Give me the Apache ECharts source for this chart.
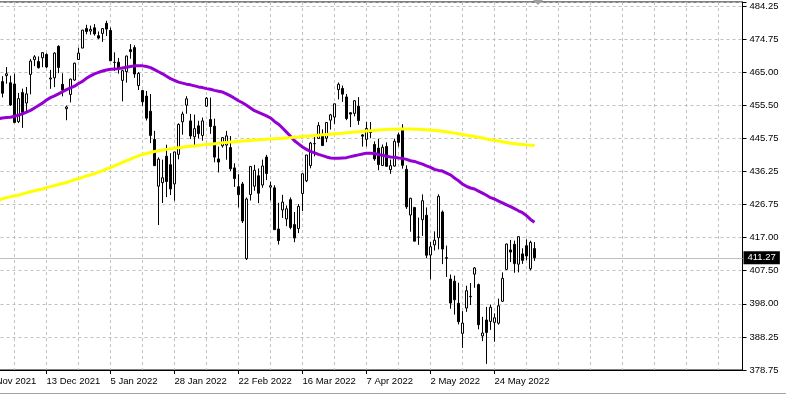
<!DOCTYPE html>
<html><head><meta charset="utf-8">
<script src="https://cdn.jsdelivr.net/npm/echarts/dist/echarts.min.js"></script>
<style>html,body{margin:0;padding:0;background:#fff;}#c{width:786px;height:396px;}</style>
</head><body><div id="c"></div>
<script>
const dates = ['18 Nov 2021','19 Nov 2021','22 Nov 2021','23 Nov 2021','24 Nov 2021','26 Nov 2021','29 Nov 2021','30 Nov 2021',
'1 Dec 2021','2 Dec 2021','3 Dec 2021','6 Dec 2021','7 Dec 2021','8 Dec 2021','9 Dec 2021','10 Dec 2021',
'13 Dec 2021','14 Dec 2021','15 Dec 2021','16 Dec 2021','17 Dec 2021','20 Dec 2021','21 Dec 2021','22 Dec 2021','23 Dec 2021',
'27 Dec 2021','28 Dec 2021','29 Dec 2021','30 Dec 2021','31 Dec 2021',
'3 Jan 2022','4 Jan 2022','5 Jan 2022','6 Jan 2022','7 Jan 2022','10 Jan 2022','11 Jan 2022','12 Jan 2022','13 Jan 2022','14 Jan 2022',
'18 Jan 2022','19 Jan 2022','20 Jan 2022','21 Jan 2022','24 Jan 2022','25 Jan 2022','26 Jan 2022','27 Jan 2022','28 Jan 2022','31 Jan 2022',
'1 Feb 2022','2 Feb 2022','3 Feb 2022','4 Feb 2022','7 Feb 2022','8 Feb 2022','9 Feb 2022','10 Feb 2022','11 Feb 2022',
'14 Feb 2022','15 Feb 2022','16 Feb 2022','17 Feb 2022','18 Feb 2022','22 Feb 2022','23 Feb 2022','24 Feb 2022','25 Feb 2022','28 Feb 2022',
'1 Mar 2022','2 Mar 2022','3 Mar 2022','4 Mar 2022','7 Mar 2022','8 Mar 2022','9 Mar 2022','10 Mar 2022','11 Mar 2022',
'14 Mar 2022','15 Mar 2022','16 Mar 2022','17 Mar 2022','18 Mar 2022','21 Mar 2022','22 Mar 2022','23 Mar 2022','24 Mar 2022','25 Mar 2022',
'28 Mar 2022','29 Mar 2022','30 Mar 2022','31 Mar 2022','1 Apr 2022','4 Apr 2022','5 Apr 2022','6 Apr 2022','7 Apr 2022','8 Apr 2022',
'11 Apr 2022','12 Apr 2022','13 Apr 2022','14 Apr 2022','18 Apr 2022','19 Apr 2022','20 Apr 2022','21 Apr 2022','22 Apr 2022',
'25 Apr 2022','26 Apr 2022','27 Apr 2022','28 Apr 2022','29 Apr 2022','2 May 2022','3 May 2022','4 May 2022','5 May 2022','6 May 2022',
'9 May 2022','10 May 2022','11 May 2022','12 May 2022','13 May 2022','16 May 2022','17 May 2022','18 May 2022','19 May 2022','20 May 2022',
'23 May 2022','24 May 2022','25 May 2022','26 May 2022','27 May 2022','31 May 2022','1 Jun 2022','2 Jun 2022','3 Jun 2022','6 Jun 2022','7 Jun 2022','8 Jun 2022'];

const opens = [null,null,null,null,466.06,462.34,464.07,462.00,
461.64,450.73,459.17,456.13,464.41,468.70,468.15,469.23,
470.19,463.09,463.42,472.57,461.55,454.48,458.61,462.79,468.75,
472.06,477.72,476.98,477.93,475.64,
476.30,479.22,477.16,467.89,467.95,462.70,465.23,471.59,472.19,461.19,
459.74,458.13,453.75,445.56,432.03,433.06,440.72,438.26,432.68,441.24,
450.68,455.50,450.95,446.35,449.51,446.73,455.22,451.34,449.41,
439.92,443.73,443.93,443.22,437.33,431.89,432.66,411.02,429.61,432.03,
435.04,432.37,440.47,431.75,431.55,419.62,425.14,422.52,428.12,
420.89,419.77,429.89,433.59,438.00,444.34,445.86,446.91,445.94,451.16,
452.06,460.02,460.34,457.89,453.31,453.13,455.22,446.89,445.59,447.97,
444.11,443.08,438.03,443.55,436.81,437.86,446.92,448.54,436.91,
423.67,425.83,417.24,422.29,423.59,412.07,415.01,417.08,424.55,411.10,
405.10,404.49,398.07,389.37,396.71,399.98,406.53,403.50,388.62,393.25,
392.83,392.56,392.31,398.67,407.91,413.55,415.17,409.42,412.40,414.78,408.10,413.93];

const highs = [null,null,null,null,469.57,463.90,466.56,464.03,
464.67,459.07,460.30,460.79,468.88,470.00,469.63,470.90,
470.56,465.74,470.86,472.87,464.74,455.40,463.21,467.81,472.19,
477.31,478.81,478.56,479.00,476.86,
477.85,479.98,477.98,470.82,469.20,465.74,469.85,473.20,472.88,465.09,
459.96,459.61,458.74,448.06,440.38,439.72,444.04,441.59,442.00,450.28,
453.63,458.12,452.97,452.78,450.99,451.92,457.88,457.71,451.61,
443.50,446.28,448.06,446.57,438.66,435.50,433.26,428.76,437.84,438.20,
437.17,439.72,441.11,433.37,432.30,427.21,429.51,426.43,428.77,
424.55,426.84,435.68,441.07,444.86,446.46,450.58,448.49,450.50,452.98,
455.91,462.07,461.20,458.76,453.46,456.91,457.83,447.10,450.69,450.63,
445.00,445.75,444.11,444.73,439.75,445.80,447.57,450.01,438.08,
428.69,426.04,422.92,429.64,425.87,415.92,418.93,429.66,425.00,414.80,
406.41,406.08,404.04,395.80,403.18,403.97,408.57,403.80,394.14,397.03,
397.73,395.15,399.45,407.04,415.38,416.46,416.24,417.44,414.04,416.61,416.22,415.82];

const lows = [null,null,null,null,461.19,457.77,461.73,455.30,
450.29,450.31,448.92,453.56,458.65,466.83,466.14,466.51,
466.27,460.25,460.74,464.80,458.06,451.14,456.31,462.58,468.64,
472.01,476.06,475.92,475.67,474.67,
473.85,475.58,468.28,465.43,464.65,456.60,462.05,468.94,463.44,459.90,
455.31,451.07,444.50,437.95,420.76,427.15,428.86,429.45,427.82,439.81,
446.94,453.05,445.71,443.83,445.85,445.22,455.00,447.20,438.94,
436.00,443.18,439.69,436.42,431.82,425.86,421.35,410.64,427.86,430.70,
427.11,431.57,433.80,427.88,419.36,415.12,422.82,420.44,419.53,
415.79,418.42,424.80,433.19,437.22,440.68,445.86,443.71,444.76,448.43,
450.06,457.18,456.47,451.16,449.14,452.26,449.82,443.48,443.53,445.94,
439.39,436.65,437.84,437.68,435.61,437.68,443.48,437.10,425.44,
418.84,416.07,415.01,417.60,411.21,405.02,413.36,413.71,409.44,405.73,
396.50,394.82,391.96,385.15,395.61,397.60,402.58,390.55,387.11,380.54,
390.38,386.96,391.89,398.45,407.70,410.03,406.93,407.04,409.51,410.55,407.61,410.38];

const closes = [null,null,null,null,469.44,458.97,464.60,455.56,
450.50,457.40,453.42,458.79,468.28,469.52,466.35,470.74,
466.57,463.36,470.60,466.45,459.87,454.98,463.06,467.69,470.60,
477.26,476.87,477.48,476.16,474.96,
477.71,477.55,468.38,467.94,466.09,465.51,469.75,471.02,464.53,464.72,
456.49,451.75,446.75,437.98,439.84,434.47,433.38,431.24,441.95,449.91,
452.95,457.35,446.60,448.70,447.26,450.94,457.54,449.32,440.46,
439.02,446.10,446.60,437.06,434.23,429.57,421.95,428.30,437.75,436.63,
429.98,437.89,435.71,432.17,419.43,416.25,427.41,425.48,420.07,
417.00,426.17,435.62,441.07,444.52,444.39,449.59,443.80,450.49,452.69,
455.91,461.55,458.70,451.64,452.92,456.80,451.03,446.52,448.77,447.57,
439.92,438.29,443.31,437.79,437.97,445.04,444.71,438.06,426.04,
428.51,416.10,417.27,427.81,412.00,414.48,416.38,429.06,413.81,411.34,
398.17,399.09,392.75,392.34,401.72,400.09,408.32,391.86,389.46,389.63,
396.92,393.89,397.37,405.31,415.26,412.93,409.59,417.39,410.54,411.79,415.74,411.27];

// moving averages (purple = fast, yellow = slow)
const maFast = [null,null,null,null,451.6,451.8,451.9,452.0,
452.3,452.6,453.0,453.5,454.0,454.7,455.4,456.1,
457.0,457.7,458.2,458.8,459.4,460.0,460.5,461.0,461.8,
462.4,463.3,464.0,464.6,465.0,
465.4,465.7,465.9,466.0,466.1,466.3,466.5,466.7,466.9,466.95,
466.9,466.7,466.4,465.8,465.2,464.6,463.9,463.2,462.7,462.2,
461.9,461.6,461.4,461.1,460.8,460.6,460.3,460.1,459.8,
459.55,459.3,458.8,458.2,457.5,456.8,456.2,455.5,454.7,453.9,
453.4,452.9,452.4,451.8,450.8,450.0,448.9,447.7,446.5,
445.2,444.3,443.4,442.7,442.1,441.7,441.25,440.9,440.5,440.2,
440.1,440.1,440.2,440.3,440.6,440.85,441.1,441.35,441.6,441.6,
441.5,441.2,441.0,440.7,440.5,440.4,440.2,440.1,439.8,
439.4,439.2,438.8,438.4,437.9,437.5,436.9,436.6,436.4,435.8,
435.3,434.4,433.6,432.6,432.0,431.5,431.2,430.6,430.0,429.4,
428.7,428.3,427.7,427.2,426.6,426.1,425.5,424.9,424.35,423.5,422.4,421.6];

const maSlow = [null,null,null,null,427.9,428.4,428.7,429.0,
429.2,429.4,429.8,430.1,430.4,430.7,431.0,431.2,
431.6,431.9,432.2,432.5,432.8,433.1,433.5,433.9,434.2,
434.6,435.0,435.3,435.7,436.1,
436.5,437.0,437.4,437.9,438.4,438.9,439.4,439.9,440.4,440.8,
441.2,441.5,441.8,442.1,442.3,442.5,442.7,442.9,443.05,443.2,
443.3,443.5,443.6,443.7,443.85,444.0,444.1,444.2,444.35,
444.5,444.6,444.7,444.8,444.9,445.0,445.1,445.2,445.3,445.4,
445.5,445.55,445.65,445.7,445.75,445.85,445.9,446.0,446.1,
446.2,446.3,446.4,446.5,446.6,446.7,446.8,446.9,447.0,447.1,
447.2,447.3,447.4,447.5,447.6,447.7,447.8,447.9,448.0,448.1,
448.2,448.3,448.4,448.45,448.5,448.55,448.6,448.6,448.6,
448.6,448.55,448.5,448.45,448.4,448.3,448.2,448.1,447.95,447.8,
447.6,447.4,447.2,447.0,446.8,446.6,446.4,446.2,446.0,445.7,
445.5,445.3,445.1,444.9,444.7,444.5,444.35,444.2,444.1,444.0,443.9,443.8];

const xTickLabels = ['18 Nov 2021','13 Dec 2021','5 Jan 2022','28 Jan 2022','22 Feb 2022','16 Mar 2022','7 Apr 2022','2 May 2022','24 May 2022'];
const yTickLabels = ['378.75','388.25','398.00','407.50','417.00','426.75','436.25','445.75','455.50','465.00','474.75','484.25'];
const yMin = 378.75, yTop = 484.25, yMaxVisible = 485.41;
const emptySlots = 52; // chart shift area to the right of the last bar

const yInterval = (yTop - yMin) / (yTickLabels.length - 1);
const categories = dates.concat(Array.from({length: emptySlots}, (_, k) => '+' + (k + 1)));
const candleData = dates.map((d, i) => opens[i] == null ? '-' : [opens[i], closes[i], lows[i], highs[i]]);
const lastClose = closes[closes.length - 1];
const FONT = "'Liberation Sans', Arial, sans-serif";

const chart = echarts.init(document.getElementById('c'), null, {renderer: 'canvas'});
chart.setOption({
  animation: false,
  backgroundColor: '#ffffff',
  grid: {left: -17.5, right: 43.5, top: 2, bottom: 26, show: true, borderColor: '#000', borderWidth: 1,
    backgroundColor: 'transparent', containLabel: false, outerBoundsMode: 'none'},
  xAxis: {
    type: 'category', data: categories, boundaryGap: false,
    axisLine: {show: true, lineStyle: {color: '#000', width: 1}},
    axisTick: {show: true, length: 4, lineStyle: {color: '#000'}, interval: (i, v) => xTickLabels.includes(v)},
    axisLabel: {show: true, align: 'left', margin: 6, color: '#000', fontFamily: FONT, fontSize: 9.5, hideOverlap: false,
      interval: (i, v) => xTickLabels.includes(v), formatter: v => xTickLabels.includes(v) ? v : ''},
    splitLine: {show: true, interval: (i) => i % 8 === 0, lineStyle: {color: '#c0c0c0', type: [3, 3], width: 1}}
  },
  yAxis: {
    type: 'value', position: 'right', min: yMin, max: yMaxVisible, interval: yInterval, scale: true,
    axisLine: {show: true, lineStyle: {color: '#000', width: 1}},
    axisTick: {show: true, length: 4, lineStyle: {color: '#000'}},
    axisLabel: {show: true, margin: 7, color: '#000', fontFamily: FONT, fontSize: 9.5,
      formatter: v => {
        const k = Math.round((v - yMin) / yInterval);
        if (Math.abs(v - (yMin + k * yInterval)) > 0.3 || k < 0 || k >= yTickLabels.length) return '';
        return yTickLabels[k];
      }},
    splitLine: {show: true, lineStyle: {color: '#c0c0c0', type: [3, 3], width: 1}}
  },
  series: [
    {
      type: 'candlestick', data: candleData, barWidth: 2, z: 3,
      itemStyle: {color: '#ffffff', color0: '#000000', borderColor: '#000000', borderColor0: '#000000', borderWidth: 1},
      markLine: {
        silent: true, symbol: ['none', 'none'], z: 1,
        lineStyle: {color: '#c0c0c0', type: 'solid', width: 1},
        label: {show: true, position: 'end', distance: 1, formatter: () => lastClose.toFixed(2),
          backgroundColor: '#000', color: '#fff', fontFamily: FONT, fontSize: 9.5, padding: [2, 4, 1, 4]},
        data: [{yAxis: lastClose}]
      }
    },
    {type: 'line', data: maFast, showSymbol: false, z: 4, lineStyle: {color: '#9400D3', width: 3}, connectNulls: false},
    {type: 'line', data: maSlow, showSymbol: false, z: 4, lineStyle: {color: '#FFFF00', width: 3}, connectNulls: false}
  ],
  graphic: [
    {type: 'polygon', shape: {points: [[533, 0], [543, 0], [538, 5]]}, style: {fill: '#a0a0a0'}, z: 10},
    {type: 'line', shape: {x1: 0, y1: 393.5, x2: 786, y2: 393.5}, style: {stroke: '#a0a0a0', lineWidth: 1}, z: 10}
  ]
});
</script>
</body></html>
